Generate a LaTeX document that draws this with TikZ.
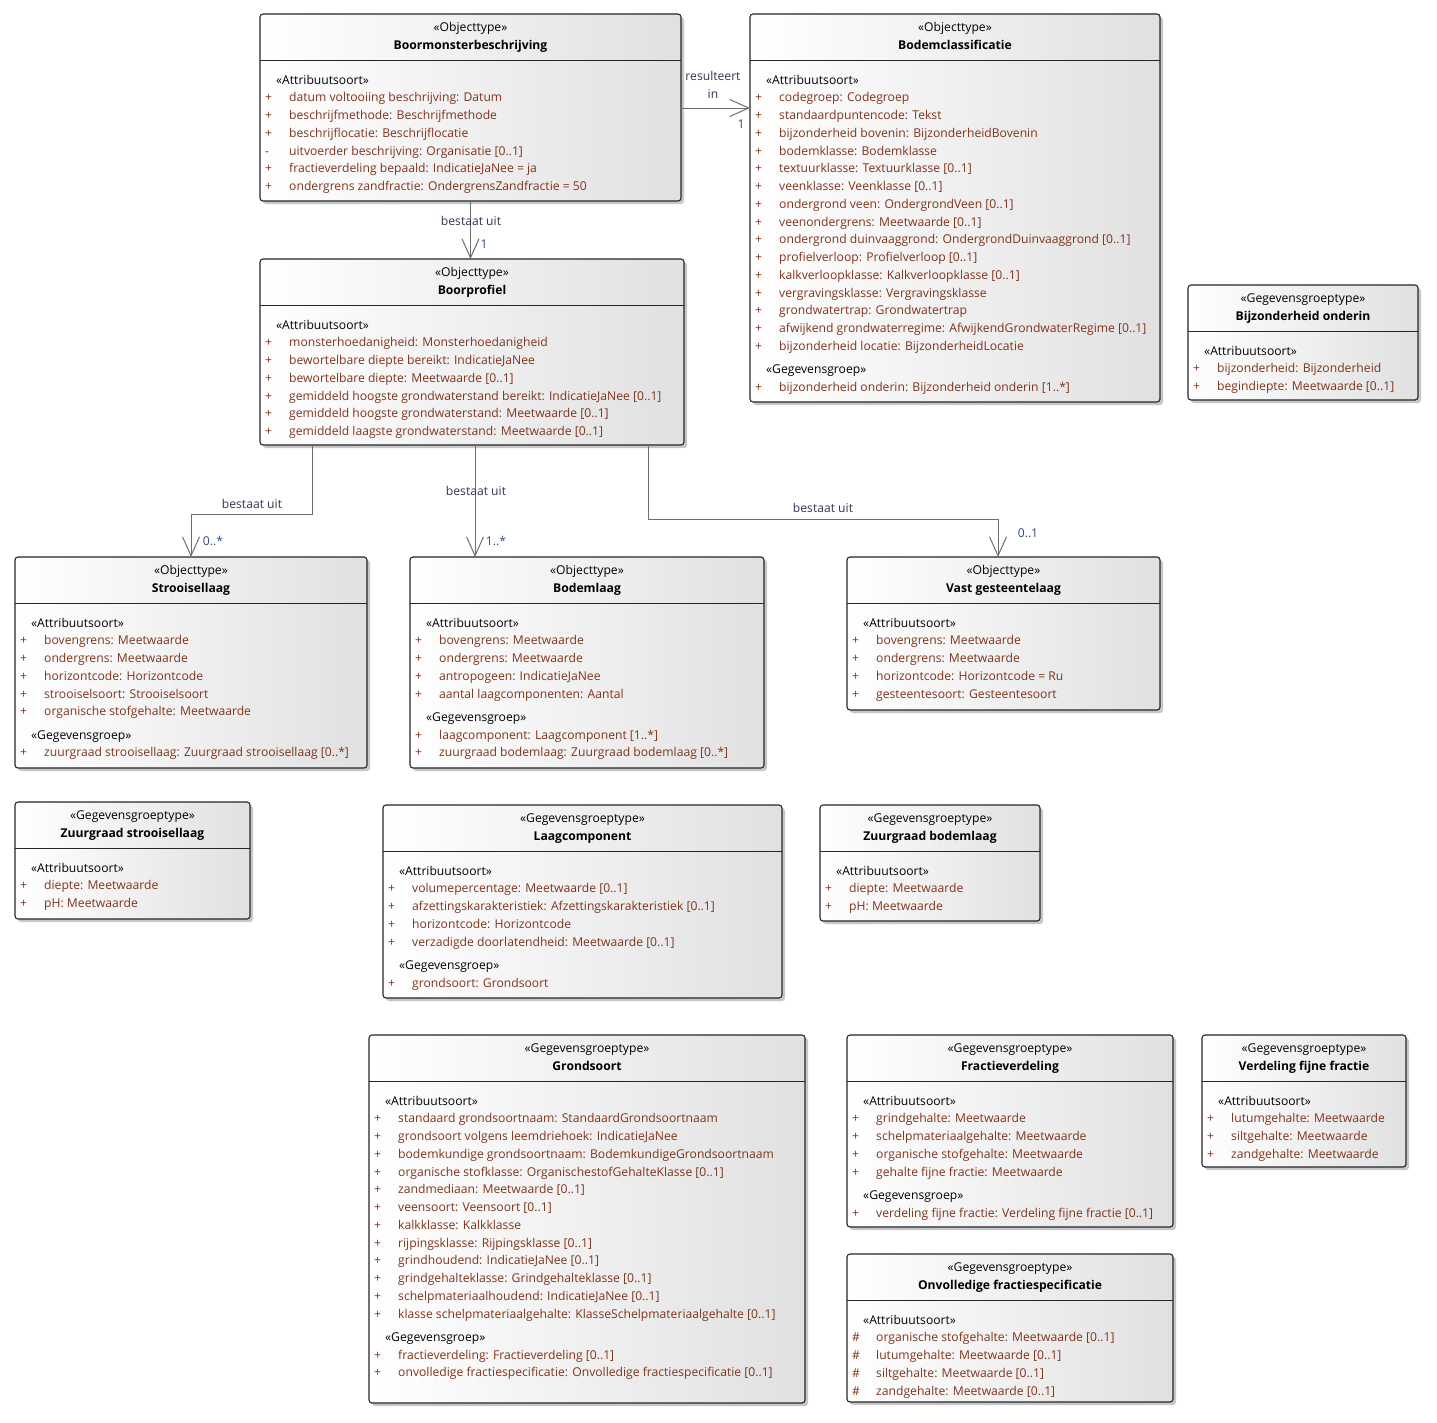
\documentclass[tikz,border=0pt]{standalone}
\usepackage{fontspec}
\setmainfont{Open Sans}
\usetikzlibrary{fit,shadows,calc,arrows.meta}
\definecolor{attrc}{RGB}{128,52,28}
\definecolor{lblc}{RGB}{50,55,80}
\definecolor{mulc}{RGB}{45,75,135}
\definecolor{linec}{RGB}{110,110,110}
\newcounter{tn}
\newcommand\umlbox[7]{%
  \node[boxstyle, fit={(#2,#3)(#4,#5)}] (#1) {};
  \draw[sepline] ($(#1.north west)+(0,46.5)$) -- ($(#1.north east)+(0,46.5)$);
  \node[stereotxt] (#1s) at ({(#2+#4)/2},#3+17.3) {«#6»};
  \node[nametxt] (#1t) at ({(#2+#4)/2},#3+35.3) {#7};
  \pgfmathsetmacro\lx{#2}\pgfmathsetmacro\ly{#3+65}}
\newcommand\umlhead[1]{\stepcounter{tn}\node[headtxt] (tx\arabic{tn}) at (\lx+16,\ly+5.2) {#1};\pgfmathsetmacro\ly{\ly+17.75}}
\newcommand\umlgroup{\pgfmathsetmacro\ly{\ly+5.5}\umlhead{«Gegevensgroep»}}
\newcommand\umlattr[2]{\stepcounter{tn}\node[marktxt] (mk\arabic{tn}) at (\lx+5,\ly+5.2) {#1};\node[attrtxt] (tx\arabic{tn}) at (\lx+29,\ly+5.2) {#2};\pgfmathsetmacro\ly{\ly+17.75}}
\begin{document}
\begin{tikzpicture}[x=1pt,y=-1pt,
  boxstyle/.style={draw=black!85, line width=1.1pt, rounded corners=3pt, left color=white, right color=black!12, inner sep=0pt, outer sep=0pt, drop shadow={shadow xshift=3pt, shadow yshift=-3pt, fill=black!22, opacity=1}},
  sepline/.style={draw=black!85, line width=1.1pt},
  basefont/.style={font=\fontsize{12.15}{14}\selectfont, inner sep=0pt},
  stereotxt/.style={basefont, anchor=base, text=black},
  nametxt/.style={basefont, anchor=base, text=black, font=\fontsize{12.15}{14}\selectfont\bfseries},
  headtxt/.style={basefont, anchor=base west, text=black},
  marktxt/.style={basefont, anchor=base west, text=attrc},
  attrtxt/.style={basefont, anchor=base west, text=attrc},
  lbl/.style={basefont, anchor=base, text=lblc},
  mul/.style={basefont, anchor=base, text=mulc},
  assoc/.style={draw=linec, line width=1pt, -{Straight Barb[length=19pt,width=17pt,line width=1pt]}}
]
\useasboundingbox (0,0) rectangle (1437,1422);
\fill[white] (0,0) rectangle (1437,1422);

% Boormonsterbeschrijving
\umlbox{boor}{260}{14}{681}{201}{Objecttype}{Boormonsterbeschrijving}
\umlhead{«Attribuutsoort»}
\umlattr{+}{datum voltooiing beschrijving: Datum}
\umlattr{+}{beschrijfmethode: Beschrijfmethode}
\umlattr{+}{beschrijflocatie: Beschrijflocatie}
\umlattr{-}{uitvoerder beschrijving: Organisatie [0..1]}
\umlattr{+}{fractieverdeling bepaald: IndicatieJaNee = ja}
\umlattr{+}{ondergrens zandfractie: OndergrensZandfractie = 50}

% Bodemclassificatie
\umlbox{bodem}{750}{14}{1160}{402}{Objecttype}{Bodemclassificatie}
\umlhead{«Attribuutsoort»}
\umlattr{+}{codegroep: Codegroep}
\umlattr{+}{standaardpuntencode: Tekst}
\umlattr{+}{bijzonderheid bovenin: BijzonderheidBovenin}
\umlattr{+}{bodemklasse: Bodemklasse}
\umlattr{+}{textuurklasse: Textuurklasse [0..1]}
\umlattr{+}{veenklasse: Veenklasse [0..1]}
\umlattr{+}{ondergrond veen: OndergrondVeen [0..1]}
\umlattr{+}{veenondergrens: Meetwaarde [0..1]}
\umlattr{+}{ondergrond duinvaaggrond: OndergrondDuinvaaggrond [0..1]}
\umlattr{+}{profielverloop: Profielverloop [0..1]}
\umlattr{+}{kalkverloopklasse: Kalkverloopklasse [0..1]}
\umlattr{+}{vergravingsklasse: Vergravingsklasse}
\umlattr{+}{grondwatertrap: Grondwatertrap}
\umlattr{+}{afwijkend grondwaterregime: AfwijkendGrondwaterRegime [0..1]}
\umlattr{+}{bijzonderheid locatie: BijzonderheidLocatie}
\umlgroup
\umlattr{+}{bijzonderheid onderin: Bijzonderheid onderin [1..*]}

% Boorprofiel
\umlbox{profiel}{260}{259}{684}{445}{Objecttype}{Boorprofiel}
\umlhead{«Attribuutsoort»}
\umlattr{+}{monsterhoedanigheid: Monsterhoedanigheid}
\umlattr{+}{bewortelbare diepte bereikt: IndicatieJaNee}
\umlattr{+}{bewortelbare diepte: Meetwaarde [0..1]}
\umlattr{+}{gemiddeld hoogste grondwaterstand bereikt: IndicatieJaNee [0..1]}
\umlattr{+}{gemiddeld hoogste grondwaterstand: Meetwaarde [0..1]}
\umlattr{+}{gemiddeld laagste grondwaterstand: Meetwaarde [0..1]}

% Bijzonderheid onderin
\umlbox{bijz}{1188}{285}{1418}{400}{Gegevensgroeptype}{Bijzonderheid onderin}
\umlhead{«Attribuutsoort»}
\umlattr{+}{bijzonderheid: Bijzonderheid}
\umlattr{+}{begindiepte: Meetwaarde [0..1]}

% Strooisellaag
\umlbox{strooi}{15}{557}{367}{768}{Objecttype}{Strooisellaag}
\umlhead{«Attribuutsoort»}
\umlattr{+}{bovengrens: Meetwaarde}
\umlattr{+}{ondergrens: Meetwaarde}
\umlattr{+}{horizontcode: Horizontcode}
\umlattr{+}{strooiselsoort: Strooiselsoort}
\umlattr{+}{organische stofgehalte: Meetwaarde}
\umlgroup
\umlattr{+}{zuurgraad strooisellaag: Zuurgraad strooisellaag [0..*]}

% Bodemlaag
\umlbox{laag}{410}{557}{764}{768}{Objecttype}{Bodemlaag}
\umlhead{«Attribuutsoort»}
\umlattr{+}{bovengrens: Meetwaarde}
\umlattr{+}{ondergrens: Meetwaarde}
\umlattr{+}{antropogeen: IndicatieJaNee}
\umlattr{+}{aantal laagcomponenten: Aantal}
\umlgroup
\umlattr{+}{laagcomponent: Laagcomponent [1..*]}
\umlattr{+}{zuurgraad bodemlaag: Zuurgraad bodemlaag [0..*]}

% Vast gesteentelaag
\umlbox{vast}{847}{557}{1160}{710}{Objecttype}{Vast gesteentelaag}
\umlhead{«Attribuutsoort»}
\umlattr{+}{bovengrens: Meetwaarde}
\umlattr{+}{ondergrens: Meetwaarde}
\umlattr{+}{horizontcode: Horizontcode = Ru}
\umlattr{+}{gesteentesoort: Gesteentesoort}

% Zuurgraad strooisellaag
\umlbox{zstrooi}{15}{802}{250}{919}{Gegevensgroeptype}{Zuurgraad strooisellaag}
\umlhead{«Attribuutsoort»}
\umlattr{+}{diepte: Meetwaarde}
\umlattr{+}{pH: Meetwaarde}

% Laagcomponent
\umlbox{comp}{383}{805}{782}{998}{Gegevensgroeptype}{Laagcomponent}
\umlhead{«Attribuutsoort»}
\umlattr{+}{volumepercentage: Meetwaarde [0..1]}
\umlattr{+}{afzettingskarakteristiek: Afzettingskarakteristiek [0..1]}
\umlattr{+}{horizontcode: Horizontcode}
\umlattr{+}{verzadigde doorlatendheid: Meetwaarde [0..1]}
\umlgroup
\umlattr{+}{grondsoort: Grondsoort}

% Zuurgraad bodemlaag
\umlbox{zbodem}{820}{805}{1040}{921}{Gegevensgroeptype}{Zuurgraad bodemlaag}
\umlhead{«Attribuutsoort»}
\umlattr{+}{diepte: Meetwaarde}
\umlattr{+}{pH: Meetwaarde}

% Grondsoort
\umlbox{grond}{369}{1035}{805}{1403}{Gegevensgroeptype}{Grondsoort}
\umlhead{«Attribuutsoort»}
\umlattr{+}{standaard grondsoortnaam: StandaardGrondsoortnaam}
\umlattr{+}{grondsoort volgens leemdriehoek: IndicatieJaNee}
\umlattr{+}{bodemkundige grondsoortnaam: BodemkundigeGrondsoortnaam}
\umlattr{+}{organische stofklasse: OrganischestofGehalteKlasse [0..1]}
\umlattr{+}{zandmediaan: Meetwaarde [0..1]}
\umlattr{+}{veensoort: Veensoort [0..1]}
\umlattr{+}{kalkklasse: Kalkklasse}
\umlattr{+}{rijpingsklasse: Rijpingsklasse [0..1]}
\umlattr{+}{grindhoudend: IndicatieJaNee [0..1]}
\umlattr{+}{grindgehalteklasse: Grindgehalteklasse [0..1]}
\umlattr{+}{schelpmateriaalhoudend: IndicatieJaNee [0..1]}
\umlattr{+}{klasse schelpmateriaalgehalte: KlasseSchelpmateriaalgehalte [0..1]}
\umlgroup
\umlattr{+}{fractieverdeling: Fractieverdeling [0..1]}
\umlattr{+}{onvolledige fractiespecificatie: Onvolledige fractiespecificatie [0..1]}

% Fractieverdeling
\umlbox{fract}{847}{1035}{1173}{1227}{Gegevensgroeptype}{Fractieverdeling}
\umlhead{«Attribuutsoort»}
\umlattr{+}{grindgehalte: Meetwaarde}
\umlattr{+}{schelpmateriaalgehalte: Meetwaarde}
\umlattr{+}{organische stofgehalte: Meetwaarde}
\umlattr{+}{gehalte fijne fractie: Meetwaarde}
\umlgroup
\umlattr{+}{verdeling fijne fractie: Verdeling fijne fractie [0..1]}

% Verdeling fijne fractie
\umlbox{fijn}{1202}{1035}{1406}{1167}{Gegevensgroeptype}{Verdeling fijne fractie}
\umlhead{«Attribuutsoort»}
\umlattr{+}{lutumgehalte: Meetwaarde}
\umlattr{+}{siltgehalte: Meetwaarde}
\umlattr{+}{zandgehalte: Meetwaarde}

% Onvolledige fractiespecificatie
\umlbox{onv}{847}{1254}{1173}{1402}{Gegevensgroeptype}{Onvolledige fractiespecificatie}
\umlhead{«Attribuutsoort»}
\umlattr{\#}{organische stofgehalte: Meetwaarde [0..1]}
\umlattr{\#}{lutumgehalte: Meetwaarde [0..1]}
\umlattr{\#}{siltgehalte: Meetwaarde [0..1]}
\umlattr{\#}{zandgehalte: Meetwaarde [0..1]}

% Connectors
\draw[assoc] ([yshift=-94pt]boor.north east) -- ([yshift=-94pt]bodem.north west);
\node[lbl] (lres1) at (713,80.3) {resulteert};
\node[lbl] (lres2) at (713,98.3) {in};
\node[mul] (mres) at (741,128.3) {1};

\draw[assoc] (boor.south) -- (boor.south |- profiel.north);
\node[lbl] (lbp) at (471,225.3) {bestaat uit};
\node[mul] (mbp) at (484,248.3) {1};

\draw[assoc] ([xshift=52pt]profiel.south west) -- ++(0,69) -| (strooi.north);
\node[lbl] (lps) at (252,508.3) {bestaat uit};
\node[mul] (mps) at (213,545.3) {0..*};

\draw[assoc] ([xshift=215pt]profiel.south west) -- ([xshift=65pt]laag.north west);
\node[lbl] (lpl) at (476,495.3) {bestaat uit};
\node[mul] (mpl) at (496,545.3) {1..*};

\draw[assoc] ([xshift=388pt]profiel.south west) -- ++(0,74) -| ([xshift=151pt]vast.north west);
\node[lbl] (lpv) at (823,512.3) {bestaat uit};
\node[mul] (mpv) at (1028,537.3) {0..1};
\end{tikzpicture}
\end{document}
